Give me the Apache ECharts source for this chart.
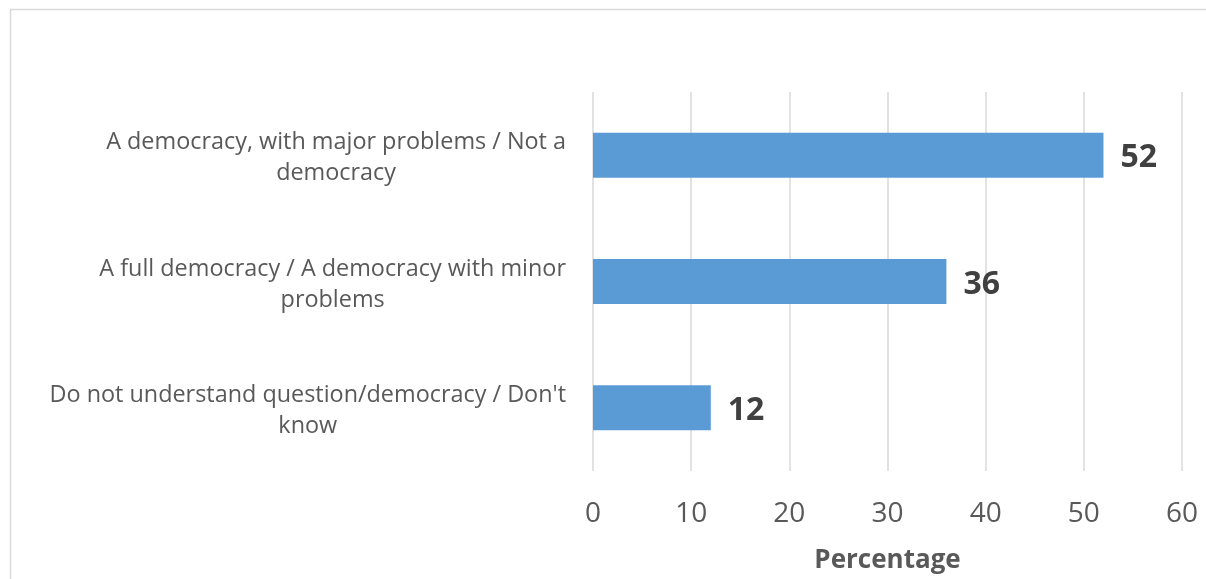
<!DOCTYPE html>
<html>
<head>
<meta charset="utf-8">
<script src="https://cdn.jsdelivr.net/npm/echarts@6/dist/echarts.min.js"></script>
<style>html,body{margin:0;padding:0;background:#fff}#c{width:1206px;height:579px}</style>
</head>
<body>
<div id="c"></div>
<script>
const categories = [
  "A democracy, with major problems / Not a democracy",
  "A full democracy / A democracy with minor problems",
  "Do not understand question/democracy / Don't know"
];
const values = [52, 36, 12];
const xTicks = { min: 0, max: 60, interval: 10 };
const axisName = "Percentage";

const FONT = '"Open Sans", sans-serif';
const CAT_SIZE = 23.4;
const ctx = document.createElement('canvas').getContext('2d');
ctx.font = CAT_SIZE + 'px "Open Sans"';
function wrap(text, maxW) {
  const words = text.split(' ');
  const lines = [];
  let cur = '';
  for (const w of words) {
    const t = cur ? cur + ' ' + w : w;
    if (ctx.measureText(t).width > maxW && cur) { lines.push(cur); cur = w; }
    else cur = t;
  }
  if (cur) lines.push(cur);
  return lines;
}

const chart = echarts.init(document.getElementById('c'));
chart.setOption({
  animation: false,
  grid: { left: 593, right: 24, top: 92, bottom: 107 },
  graphic: [{
    type: 'rect', silent: true,
    shape: { x: 10.5, y: 9.5, width: 1400, height: 800 },
    style: { fill: 'none', stroke: '#d9d9d9', lineWidth: 1.5 }
  }],
  xAxis: {
    type: 'value', min: xTicks.min, max: xTicks.max, interval: xTicks.interval,
    axisLine: { show: false }, axisTick: { show: false },
    splitLine: { lineStyle: { color: '#d9d9d9', width: 1.5 } },
    axisLabel: { color: '#595959', fontSize: 28, fontFamily: FONT, margin: 29 },
    name: axisName, nameLocation: 'middle', nameGap: 77,
    nameTextStyle: { color: '#595959', fontSize: 26, fontWeight: 'bold', fontFamily: FONT }
  },
  yAxis: {
    type: 'category', data: categories, inverse: true,
    axisLine: { show: false }, axisTick: { show: false },
    axisLabel: {
      margin: 27, align: 'right', padding: [6, 0, 0, 0],
      formatter: function (v) {
        return wrap(v, 540).map(l => '{c|' + l + '}').join('\n');
      },
      rich: { c: { align: 'center', fontSize: CAT_SIZE, fontFamily: FONT, color: '#595959', lineHeight: 31 } }
    }
  },
  series: [{
    type: 'bar', data: values, barWidth: 45,
    itemStyle: { color: '#5b9bd5' },
    label: { show: true, position: 'right', distance: 17, offset: [0, 3], color: '#404040',
      fontSize: 32, fontWeight: 'bold', fontFamily: FONT }
  }]
});
</script>
</body>
</html>
